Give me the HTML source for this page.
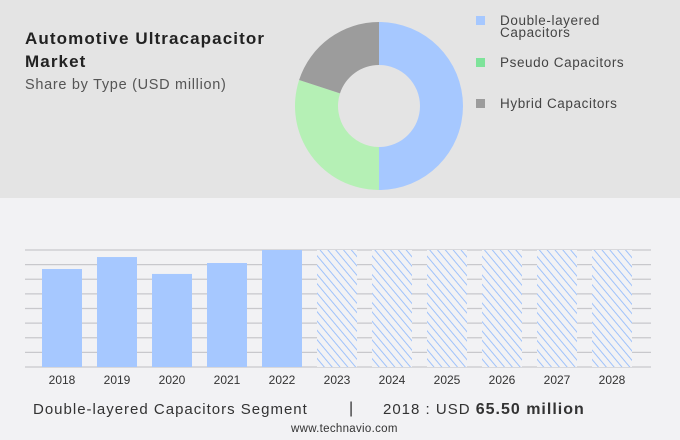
<!DOCTYPE html>
<html><head><meta charset="utf-8"><style>
body{margin:0;width:680px;height:440px;overflow:hidden;font-family:"Liberation Sans",sans-serif;background:#f2f2f4}
#topbg{position:absolute;left:0;top:0;width:680px;height:198px;background:#e4e4e4}
.t{position:absolute;color:#333;white-space:nowrap}
</style></head><body>
<div id="topbg"></div>
<div class="t" style="left:25px;top:27px;font-size:17px;font-weight:bold;line-height:23px;color:#222;letter-spacing:1.1px">Automotive Ultracapacitor<br>Market</div>
<div class="t" style="left:25px;top:77px;font-size:14.5px;color:#555;letter-spacing:0.7px">Share by Type (USD million)</div>
<svg width="680" height="440" style="position:absolute;left:0;top:0" id="svg">
<defs><pattern id="hatch" patternUnits="userSpaceOnUse" width="6" height="6" patternTransform="rotate(-40)"><rect width="6" height="6" fill="#f2f2f4"/><line x1="0" y1="0" x2="0" y2="6" stroke="#9fc2fb" stroke-width="2"/></pattern></defs>
<g id="donut"></g><g id="legend"></g><g id="grid"></g><g id="bars"></g><g id="xlabels"></g>
</svg>
<div class="t" style="left:33px;top:401px;font-size:15px;letter-spacing:1px">Double-layered Capacitors Segment</div>
<div class="t" style="left:349px;top:400px;font-size:16px">|</div>
<div class="t" style="left:383px;top:401px;font-size:15px;letter-spacing:1px">2018 : USD <b style="font-size:16px;color:#333">65.50 million</b></div>
<div class="t" style="left:291px;top:423px;font-size:11.5px;letter-spacing:0.3px">www.technavio.com</div>
<script>
const segNames=["Double-layered Capacitors","Pseudo Capacitors","Hybrid Capacitors"];
const segShares=[50,30,20];
const segColors=["#a6c8ff","#b5f0b5","#9c9c9c"];
const legendColors=["#a6c8ff","#7ee39a","#9c9c9c"];
const years=["2018","2019","2020","2021","2022","2023","2024","2025","2026","2027","2028"];
const values=[65.5,73.5,62.2,69.5,78.2,null,null,null,null,null,null];
const yMax=78.2;
const NS="http://www.w3.org/2000/svg";
function mk(t,a,p){const e=document.createElementNS(NS,t);for(const k in a)e.setAttribute(k,a[k]);p.appendChild(e);return e;}
(function(){
const cx=379,cy=106,R=84,r=41;const tot=segShares.reduce((a,b)=>a+b,0);let ang=0;
const dg=document.getElementById('donut');
segShares.forEach((v,i)=>{const a0=ang,a1=ang+v/tot*2*Math.PI;ang=a1;
const p=(a,rad)=>[cx+rad*Math.sin(a),cy-rad*Math.cos(a)];const lg=(a1-a0)>Math.PI?1:0;
const [x0,y0]=p(a0,R),[x1,y1]=p(a1,R),[x2,y2]=p(a1,r),[x3,y3]=p(a0,r);
const e=mk('path',{d:`M${x0},${y0}A${R},${R} 0 ${lg} 1 ${x1},${y1}L${x2},${y2}A${r},${r} 0 ${lg} 0 ${x3},${y3}Z`,fill:segColors[i]},dg);

});
const lgG=document.getElementById('legend');
segNames.forEach((n,i)=>{const y=[20,62,103][i];
const s=mk('rect',{x:476,y:y-4,width:9,height:9,fill:legendColors[i]},lgG);


const parts=i==0?["Double-layered","Capacitors"]:[n];
parts.forEach((t,j)=>{const tx=mk('text',{x:500,y:y+5+j*12,'font-size':13.5,fill:'#444','letter-spacing':0.6},lgG);tx.textContent=t;

});});
const base=367,plotTop=250,x0=42,step=55,bw=40;
const yS=v=>base-(v/yMax)*(base-plotTop);
const gg=document.getElementById('grid');
for(let k=0;k<=8;k++){const y=plotTop+k*(base-plotTop)/8;const l=mk('line',{x1:25,x2:651,y1:y,y2:y,stroke:'#c8c8cc','stroke-width':1.2},gg);

}
const bg=document.getElementById('bars'),xg=document.getElementById('xlabels');
years.forEach((yr,i)=>{const x=x0+i*step;const v=values[i];
const b=v!=null?mk('rect',{x:x,y:yS(v),width:bw,height:base-yS(v),fill:'#a6c8ff'},bg):mk('rect',{x:x,y:plotTop,width:bw,height:base-plotTop,fill:'url(#hatch)'},bg);


const t=mk('text',{x:x+bw/2,y:384,'font-size':12,'text-anchor':'middle',fill:'#333'},xg);t.textContent=yr;

});
})();
</script>
</body></html>
